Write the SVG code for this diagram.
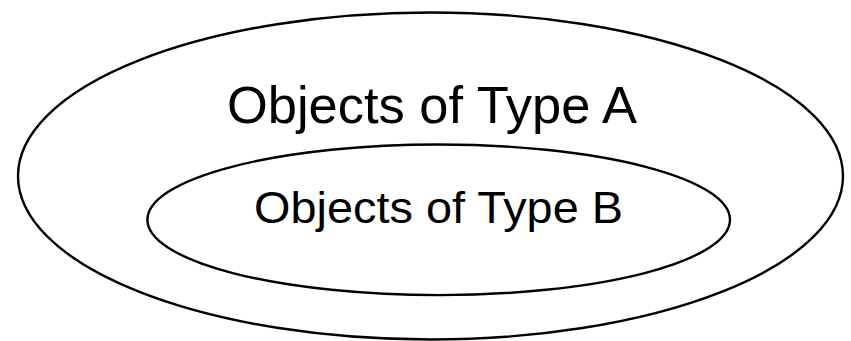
<svg xmlns="http://www.w3.org/2000/svg" width="851" height="341" viewBox="0 0 851 341">
  <style>
    .set { fill: none; stroke: #000; stroke-width: 2.4; }
    .label { font-family: "Liberation Sans", "DejaVu Sans", sans-serif; fill: #000; }
  </style>
  <rect width="851" height="341" fill="#fff"/>
  <g id="type-a">
    <ellipse class="set" cx="430.5" cy="176" rx="412.5" ry="163.5"/>
    <text class="label" x="227" y="123" font-size="52.5" textLength="410" lengthAdjust="spacingAndGlyphs">Objects of Type A</text>
  </g>
  <g id="type-b">
    <ellipse class="set" cx="438.7" cy="219.8" rx="291.3" ry="75.3"/>
    <text class="label" x="254" y="223" font-size="44.5" textLength="369" lengthAdjust="spacingAndGlyphs">Objects of Type B</text>
  </g>
  <g id="connectors"/>
</svg>
